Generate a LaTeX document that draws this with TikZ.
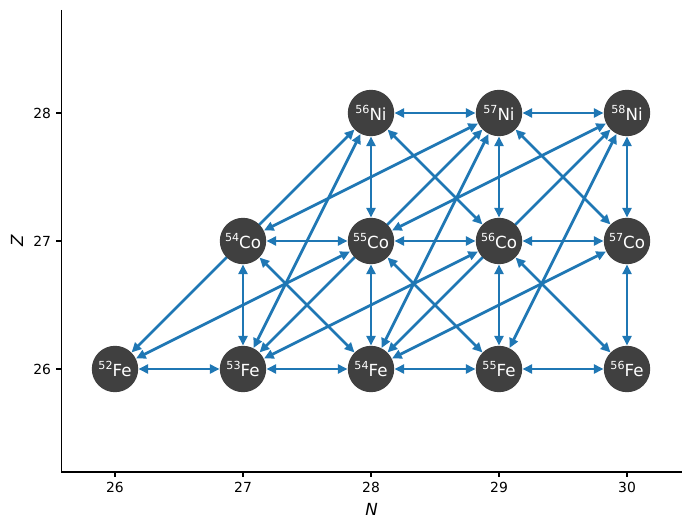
\documentclass[tikz,border=0pt]{standalone}
\usepackage{fontspec}
\setmainfont{DejaVu Sans}
\usetikzlibrary{arrows.meta,backgrounds}
\definecolor{nodegray}{HTML}{404040}
\definecolor{edgeblue}{HTML}{1F77B4}
\newcommand{\iso}[2]{\raisebox{5pt}{\fontsize{8}{9}\selectfont #1}#2}
\begin{document}
\begin{tikzpicture}[x=0.72pt,y=0.72pt,
  nuc/.style={circle,fill=nodegray,minimum size=33.4pt,inner sep=0pt,text=white,font=\fontsize{12}{14}\selectfont},
  link/.style={draw=edgeblue,line width=2pt,{Triangle[length=7pt,width=6.5pt]}-{Triangle[length=7pt,width=6.5pt]}},
  spine/.style={line width=0.8pt,black},
  tick/.style={line width=0.8pt,black},
  ticklabel/.style={font=\fontsize{10}{12}\selectfont,inner sep=0pt},
  axlabel/.style={font=\fontsize{12}{14}\selectfont\itshape,inner sep=0pt}]
\useasboundingbox (0,0) rectangle (690,529);
% axes
\coordinate (o) at (61.3,57);
\coordinate (ytop) at (61.3,519);
\coordinate (xend) at (681.5,57);
\draw[spine] (ytop) -- (o) -- (xend);
\foreach \n/\x in {26/115,27/243,28/371,29/499,30/627}{
  \coordinate (xt\n) at (\x,57);
  \draw[tick] (xt\n) -- ++(0,-4.9) node[ticklabel,anchor=north,yshift=-3.5pt] (xl\n) {\n};
}
\foreach \z/\y in {26/160,27/288,28/416}{
  \coordinate (yt\z) at (61.3,\y);
  \draw[tick] (yt\z) -- ++(-4.9,0) node[ticklabel,anchor=east,xshift=-3.5pt] (yl\z) {\z};
}
\node[axlabel] (xlabel) at (371.5,20) {N};
\node[axlabel,rotate=90] (ylabel) at (17,288) {Z};
% nuclei
\node[nuc] (Fe52) at (115,160) {\iso{52}{Fe}};
\node[nuc] (Fe53) at (243,160) {\iso{53}{Fe}};
\node[nuc] (Fe54) at (371,160) {\iso{54}{Fe}};
\node[nuc] (Fe55) at (499,160) {\iso{55}{Fe}};
\node[nuc] (Fe56) at (627,160) {\iso{56}{Fe}};
\node[nuc] (Co54) at (243,288) {\iso{54}{Co}};
\node[nuc] (Co55) at (371,288) {\iso{55}{Co}};
\node[nuc] (Co56) at (499,288) {\iso{56}{Co}};
\node[nuc] (Co57) at (627,288) {\iso{57}{Co}};
\node[nuc] (Ni56) at (371,416) {\iso{56}{Ni}};
\node[nuc] (Ni57) at (499,416) {\iso{57}{Ni}};
\node[nuc] (Ni58) at (627,416) {\iso{58}{Ni}};
\begin{scope}[on background layer]
\foreach \a/\b in {Fe52/Fe53,Fe53/Fe54,Fe54/Fe55,Fe55/Fe56,Co54/Co55,Co55/Co56,Co56/Co57,Ni56/Ni57,Ni57/Ni58,
  Fe53/Co54,Fe54/Co55,Fe55/Co56,Fe56/Co57,Co55/Ni56,Co56/Ni57,Co57/Ni58,
  Fe52/Ni56,Fe53/Ni57,Fe54/Ni58,
  Fe52/Co55,Fe53/Co56,Fe54/Co57,Co54/Ni57,Co55/Ni58,
  Fe53/Ni56,Fe54/Ni57,Fe55/Ni58,
  Co54/Fe54,Co55/Fe55,Co56/Fe56,Ni56/Co56,Ni57/Co57}{
  \draw[link] (\a) -- (\b);
}
\end{scope}
\end{tikzpicture}
\end{document}
